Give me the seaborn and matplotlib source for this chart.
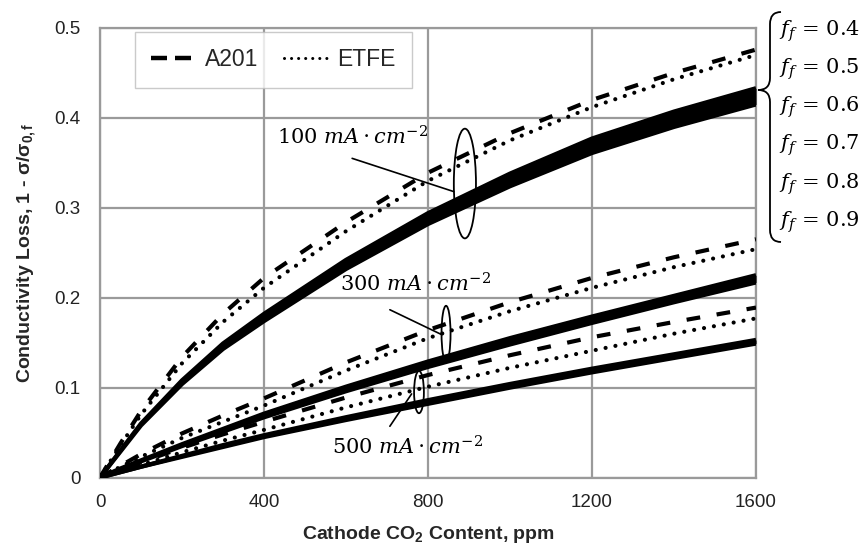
import matplotlib
matplotlib.use("Agg")
import matplotlib.pyplot as plt
import seaborn as sns
import numpy as np
import pandas as pd
from matplotlib.patches import Ellipse, PathPatch
from matplotlib.path import Path
from matplotlib.lines import Line2D

# ---------------- data ----------------
co2_ppm = [0, 50, 100, 200, 300, 400, 600, 800, 1000, 1200, 1400, 1600]

a201_100 = [0, 0.038, 0.074, 0.134, 0.182, 0.222, 0.284, 0.339, 0.383, 0.420, 0.450, 0.476]
etfe_100 = [0, 0.036, 0.070, 0.127, 0.173, 0.211, 0.274, 0.330, 0.375, 0.412, 0.443, 0.470]
band_hi_100 = [0, 0.030, 0.060, 0.108, 0.149, 0.182, 0.242, 0.294, 0.338, 0.377, 0.407, 0.433]
band_lo_100 = [0, 0.029, 0.058, 0.104, 0.143, 0.174, 0.232, 0.282, 0.324, 0.361, 0.390, 0.415]

a201_300 = [0, 0.013, 0.026, 0.049, 0.069, 0.088, 0.128, 0.164, 0.195, 0.222, 0.245, 0.265]
etfe_300 = [0, 0.012, 0.023, 0.044, 0.062, 0.080, 0.119, 0.155, 0.185, 0.211, 0.234, 0.254]
band_hi_300 = [0, 0.010, 0.019, 0.037, 0.054, 0.071, 0.101, 0.129, 0.155, 0.179, 0.202, 0.225]
band_lo_300 = [0, 0.009, 0.018, 0.035, 0.051, 0.067, 0.096, 0.123, 0.148, 0.172, 0.195, 0.217]

a201_500 = [0, 0.008, 0.017, 0.033, 0.048, 0.062, 0.089, 0.114, 0.136, 0.156, 0.173, 0.189]
etfe_500 = [0, 0.007, 0.014, 0.028, 0.041, 0.053, 0.078, 0.101, 0.122, 0.141, 0.160, 0.177]
band_hi_500 = [0, 0.006, 0.012, 0.024, 0.036, 0.047, 0.067, 0.086, 0.104, 0.121, 0.137, 0.153]
band_lo_500 = [0, 0.006, 0.012, 0.023, 0.034, 0.045, 0.064, 0.082, 0.100, 0.117, 0.133, 0.149]

x_ticks = [0, 400, 800, 1200, 1600]
y_ticks = [0, 0.1, 0.2, 0.3, 0.4, 0.5]
y_tick_labels = ["0", "0.1", "0.2", "0.3", "0.4", "0.5"]
ff_labels = ["0.4", "0.5", "0.6", "0.7", "0.8", "0.9"]
current_labels = ["100", "300", "500"]

# ---------------- style ----------------
sns.set_style("white")
plt.rcParams["font.family"] = ["Liberation Sans", "DejaVu Sans"]
plt.rcParams["mathtext.fontset"] = "custom"
plt.rcParams["mathtext.rm"] = "Liberation Sans"
plt.rcParams["mathtext.bf"] = "Liberation Sans:bold"
plt.rcParams["mathtext.it"] = "Liberation Sans:italic"

W, H = 865, 546
fig = plt.figure(figsize=(W / 100, H / 100), dpi=100)
ax = fig.add_axes([100 / W, 1 - 477.5 / H, 656 / W, 449.5 / H])

grid_c = "#9a9a9a"
LW_SOLID = 3.1
LW_DASH = 3.0
LW_DOT = 3.0

groups = [
    (a201_100, etfe_100, band_hi_100, band_lo_100),
    (a201_300, etfe_300, band_hi_300, band_lo_300),
    (a201_500, etfe_500, band_hi_500, band_lo_500),
]

for gi, (dash_v, dot_v, hi_v, lo_v) in enumerate(groups):
    df = pd.DataFrame({"x": co2_ppm, "dash": dash_v, "dot": dot_v, "hi": hi_v, "lo": lo_v})
    ax.fill_between(df["x"], df["lo"], df["hi"], color="black", lw=0, zorder=3)
    sns.lineplot(data=df, x="x", y="hi", ax=ax, color="black", lw=LW_SOLID,
                 estimator=None, solid_capstyle="butt", solid_joinstyle="round", zorder=3)
    sns.lineplot(data=df, x="x", y="lo", ax=ax, color="black", lw=LW_SOLID,
                 estimator=None, solid_capstyle="butt", solid_joinstyle="round", zorder=3)
    sns.lineplot(data=df, x="x", y="dot", ax=ax, color="black", lw=LW_DOT,
                 linestyle=(0, (0.01, 2.4)), dash_capstyle="round",
                 estimator=None, zorder=4)
    sns.lineplot(data=df, x="x", y="dash", ax=ax, color="black", lw=LW_DASH,
                 linestyle=(0, (3.3, 4.0)), dash_capstyle="butt",
                 estimator=None, zorder=4)

ax.set_xlim(0, 1600)
ax.set_ylim(0, 0.5)
ax.set_xticks(x_ticks)
ax.set_xticklabels([str(v) for v in x_ticks])
ax.set_yticks(y_ticks)
ax.set_yticklabels(y_tick_labels)
ax.grid(True, color=grid_c, lw=1.6, zorder=0)
ax.set_axisbelow(True)
for s in ax.spines.values():
    s.set_color(grid_c)
    s.set_linewidth(1.6)
ax.tick_params(axis="both", which="major", direction="out", length=5, width=1.6,
               color=grid_c, labelsize=13.5, labelcolor="#222222")
ax.tick_params(axis="y", pad=9)
ax.tick_params(axis="x", pad=7)

ax.set_xlabel("Cathode CO$_\\mathbf{2}$ Content, ppm", fontsize=14, fontweight="bold", labelpad=9)
ax.set_ylabel("Conductivity Loss, 1 - σ/σ$_\\mathbf{0,f}$", fontsize=14, fontweight="bold", labelpad=12)

# legend
handles = [
    Line2D([], [], color="black", lw=3.2, linestyle=(0, (3.6, 1.8)), dash_capstyle="butt"),
    Line2D([], [], color="black", lw=2.2, linestyle=(0, (0.01, 2.3)), dash_capstyle="round"),
]
leg = ax.legend(handles, ["A201", "ETFE"], loc="upper left", bbox_to_anchor=(0.053, 0.992),
                ncol=2, fontsize=16.5, frameon=True, fancybox=False, handlelength=2.0,
                handletextpad=0.35, columnspacing=1.1, borderpad=0.72, borderaxespad=0)
leg.get_frame().set_edgecolor("#bdbdbd")
leg.get_frame().set_linewidth(1.0)
leg.set_zorder(10)

# annotations (ellipses + leader lines + labels)
ann = [
    # text xy, line start, line end, ellipse center, ellipse w, h
    ((615, 0.379), (615, 0.355), (863, 0.318), (890, 0.327), 54, 0.122),
    ((770, 0.2155), (707, 0.1866), (833, 0.159), (844, 0.160), 22, 0.062),
    ((750, 0.034), (707, 0.057), (760, 0.093), (778, 0.095), 24, 0.047),
]
for lab, (txy, ls, le, ec, ew, eh) in zip(current_labels, ann):
    ax.text(txy[0], txy[1], "$" + lab + r"\ mA\cdot cm^{-2}$", ha="center", va="center",
            fontsize=15, math_fontfamily="dejavuserif", color="black", zorder=6)
    ax.annotate("", xy=le, xytext=ls, arrowprops=dict(arrowstyle="-", lw=1.2, color="black",
                                                       shrinkA=0, shrinkB=0), zorder=6)
    ax.add_patch(Ellipse(ec, ew, eh, fill=False, edgecolor="black", lw=1.3, zorder=6))

# right-hand brace with f_f labels
def P(px, py):
    return (px / W, 1 - py / H)

verts = [P(781, 12), P(770, 12), P(770, 24), P(770, 78), P(770, 90), P(758, 90),
         P(770, 90), P(770, 102), P(770, 230), P(770, 242), P(781, 242)]
codes = [Path.MOVETO, Path.CURVE3, Path.CURVE3, Path.LINETO, Path.CURVE3, Path.CURVE3,
         Path.CURVE3, Path.CURVE3, Path.LINETO, Path.CURVE3, Path.CURVE3]
fig.add_artist(PathPatch(Path(verts, codes), fill=False, edgecolor="black", lw=1.3,
                         transform=fig.transFigure))
for i, v in enumerate(ff_labels):
    fx, fy = P(779, 31 + i * 38.2)
    fig.text(fx, fy, r"$f_f\,=\,$" + "$" + v + "$", ha="left", va="center", fontsize=15,
             math_fontfamily="dejavuserif", color="black")

fig.savefig("out.png", dpi=100)
